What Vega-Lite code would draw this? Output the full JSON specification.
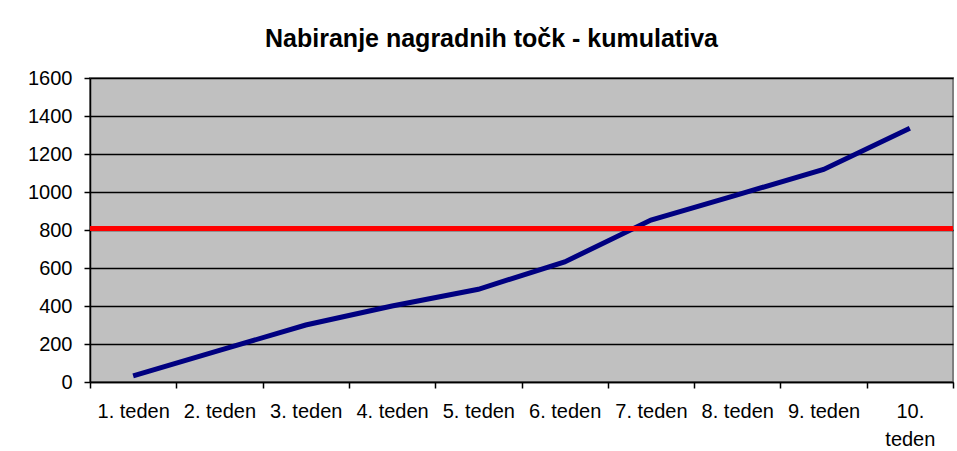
{
  "$schema": "https://vega.github.io/schema/vega-lite/v6.json",
  "width": 863,
  "height": 304,
  "autosize": {"type": "none"},
  "padding": {"left": 90, "top": 78, "right": 4, "bottom": 69},
  "background": "white",
  "title": {
    "text": "Nabiranje nagradnih točk - kumulativa",
    "font": "Liberation Sans",
    "fontSize": 25,
    "fontWeight": "bold",
    "color": "black",
    "anchor": "middle",
    "frame": "bounds",
    "offset": 16
  },
  "config": {
    "view": {"fill": "#C0C0C0", "stroke": "#808080", "strokeWidth": 2},
    "axis": {
      "labelFont": "Liberation Sans",
      "labelFontSize": 20,
      "labelColor": "black",
      "labelOverlap": false,
      "domainColor": "black",
      "domainWidth": 1.5,
      "tickColor": "black",
      "tickWidth": 1.5,
      "tickSize": 6,
      "titleFontSize": 0
    }
  },
  "layer": [
    {
      "data": {
        "values": [
          {"week": "1. teden", "points": 32},
          {"week": "2. teden", "points": 166},
          {"week": "3. teden", "points": 300},
          {"week": "4. teden", "points": 400},
          {"week": "5. teden", "points": 488},
          {"week": "6. teden", "points": 632},
          {"week": "7. teden", "points": 852},
          {"week": "8. teden", "points": 985},
          {"week": "9. teden", "points": 1119},
          {"week": "10. teden", "points": 1335}
        ]
      },
      "mark": {"type": "line", "color": "#000080", "strokeWidth": 5},
      "encoding": {
        "x": {
          "field": "week",
          "type": "nominal",
          "sort": null,
          "title": null,
          "scale": {"type": "band", "paddingInner": 0, "paddingOuter": 0},
          "axis": {
            "labelAngle": 0,
            "tickBand": "extent",
            "labelPadding": 13,
            "labelLineHeight": 28,
            "labelBaseline": "top",
            "labelExpr": "datum.value == '10. teden' ? ['10.', 'teden'] : datum.value",
            "grid": false
          }
        },
        "y": {
          "field": "points",
          "type": "quantitative",
          "title": null,
          "scale": {"domain": [0, 1600], "nice": false},
          "axis": {
            "values": [0, 200, 400, 600, 800, 1000, 1200, 1400, 1600],
            "format": "d",
            "grid": true,
            "gridColor": "black",
            "gridWidth": 1.5,
            "gridOpacity": 1,
            "labelPadding": 12
          }
        }
      }
    },
    {
      "data": {"values": [{"target": 808}]},
      "mark": {"type": "rule", "color": "#FF0000", "strokeWidth": 5},
      "encoding": {
        "y": {
          "field": "target",
          "type": "quantitative",
          "title": null,
          "axis": {
            "values": [0, 200, 400, 600, 800, 1000, 1200, 1400, 1600],
            "format": "d",
            "grid": true,
            "gridColor": "black",
            "gridWidth": 1.5,
            "gridOpacity": 1,
            "labelPadding": 12
          }
        }
      }
    }
  ]
}
